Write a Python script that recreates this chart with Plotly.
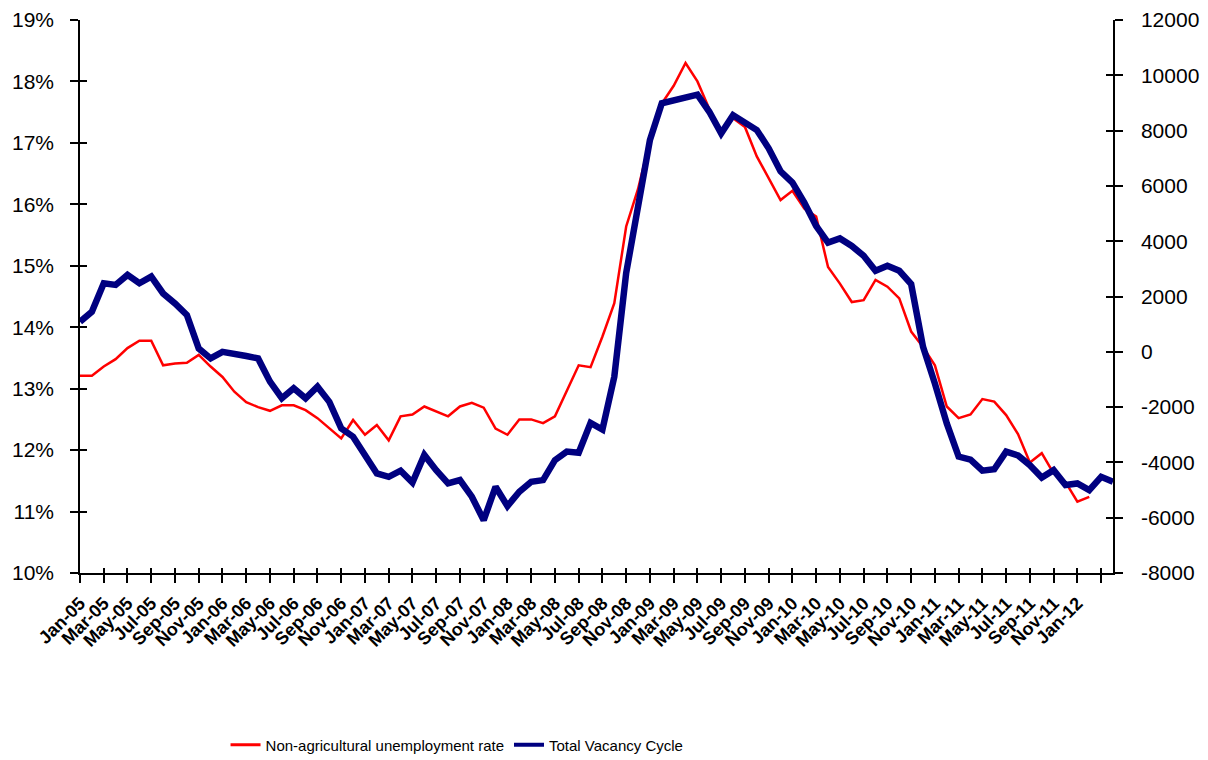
import pandas as pd
import plotly.graph_objects as go

# Monthly categories Jan-05 .. Apr-12
months = [d.strftime("%b-%y") for d in pd.date_range("2005-01-01", "2012-04-01", freq="MS")]

# Non-agricultural unemployment rate (%), Jan-05 .. Feb-12
unemployment_rate = [
    13.21, 13.21, 13.36, 13.48, 13.66, 13.78, 13.78, 13.38, 13.41, 13.42, 13.55, 13.36,
    13.19, 12.95, 12.78, 12.70, 12.64, 12.73, 12.73, 12.65, 12.52, 12.35, 12.19, 12.49,
    12.25, 12.41, 12.16, 12.55, 12.58, 12.71, 12.63, 12.55, 12.71, 12.77, 12.69, 12.35,
    12.25, 12.50, 12.50, 12.44, 12.55, 12.97, 13.38, 13.35, 13.85, 14.39, 15.64, 16.25,
    17.05, 17.64, 17.93, 18.30, 18.00, 17.55, 17.15, 17.40, 17.26, 16.78, 16.42, 16.07,
    16.22, 15.93, 15.80, 14.98, 14.71, 14.41, 14.44, 14.77, 14.66, 14.47, 13.93, 13.68,
    13.38, 12.71, 12.52, 12.58, 12.83, 12.79, 12.57, 12.26, 11.80, 11.95, 11.62, 11.48,
    11.16, 11.24,
]

# Total Vacancy Cycle, Jan-05 .. Apr-12
vacancy_cycle = [
    1090, 1450, 2480, 2420, 2780, 2480, 2720, 2110, 1750, 1330, 120, -240,
    0, -60, -150, -240, -1080, -1680, -1320, -1680, -1260, -1810, -2770, -3070,
    -3790, -4400, -4520, -4300, -4730, -3730, -4280, -4760, -4640, -5240, -6090, -4880,
    -5580, -5060, -4700, -4640, -3920, -3610, -3650, -2570, -2810, -900, 2850, 5250,
    7660, 8990, 9080, 9190, 9300, 8680, 7900, 8560, 8320, 8020, 7360, 6530,
    6120, 5400, 4550, 3950, 4100, 3830, 3470, 2930, 3110, 2930, 2450, 180,
    -1150, -2590, -3790, -3900, -4300, -4250, -3610, -3750, -4100, -4550, -4280, -4820,
    -4760, -5000, -4520, -4700,
]

left_ticks = [10, 11, 12, 13, 14, 15, 16, 17, 18, 19]
right_ticks = [-8000, -6000, -4000, -2000, 0, 2000, 4000, 6000, 8000, 10000, 12000]

x_tickvals = months[0:87:2]
x_ticktext = [m if i <= 84 else "" for i, m in zip(range(0, 87, 2), x_tickvals)]

FONT = "Liberation Sans, Arial, sans-serif"
RED = "#FF0000"
NAVY = "#000080"

fig = go.Figure()
fig.add_trace(go.Scatter(
    x=months[:len(unemployment_rate)], y=unemployment_rate,
    name="Non-agricultural unemployment rate", mode="lines",
    line=dict(color=RED, width=2.5), yaxis="y", showlegend=False,
))
fig.add_trace(go.Scatter(
    x=months[:len(vacancy_cycle)], y=vacancy_cycle,
    name="Total Vacancy Cycle", mode="lines",
    line=dict(color=NAVY, width=6.5), yaxis="y2", showlegend=False,
))
# legend entries (thinner sample lines, as in the original legend); they also
# activate the overlay axes that draw the inner half of the crossing tick marks
fig.add_trace(go.Scatter(x=[None], y=[None], mode="lines", name="Non-agricultural unemployment rate",
                         line=dict(color=RED, width=3), yaxis="y3"))
fig.add_trace(go.Scatter(x=[None], y=[None], mode="lines", name="Total Vacancy Cycle",
                         line=dict(color=NAVY, width=4), yaxis="y4"))
fig.add_trace(go.Scatter(x=[None], y=[None], mode="lines", showlegend=False,
                         xaxis="x2", yaxis="y"))

axis_common = dict(showgrid=False, zeroline=False, linecolor="black", linewidth=1.5,
                   tickcolor="black", tickwidth=1.5, automargin=False)
overlay_common = dict(showline=False, showgrid=False, zeroline=False, showticklabels=False,
                      tickcolor="black", tickwidth=1.5, automargin=False)

fig.update_layout(
    width=1208, height=760,
    margin=dict(l=80, r=95, t=20, b=187, autoexpand=False),
    paper_bgcolor="white", plot_bgcolor="white",
    font=dict(family=FONT, color="black"),
    hovermode=False,
    xaxis=dict(
        type="category", categoryorder="array", categoryarray=months,
        range=[0, 87], tickmode="array", tickvals=x_tickvals, ticktext=x_ticktext,
        ticks="outside", ticklen=8, tickangle=-45, showline=True, ticklabelstandoff=3,
        tickfont=dict(size=18, family=FONT, weight="bold", color="black"),
        **axis_common,
    ),
    xaxis2=dict(
        type="category", categoryorder="array", categoryarray=months,
        range=[0, 87], tickmode="array", tickvals=x_tickvals,
        overlaying="x", anchor="y", side="bottom",
        ticks="inside", ticklen=5, **overlay_common,
    ),
    yaxis=dict(
        range=[10, 19], tickmode="array", tickvals=left_ticks,
        ticktext=[f"{v}%" for v in left_ticks],
        ticks="outside", ticklen=8, showline=True, ticklabelstandoff=12,
        tickfont=dict(size=21, family=FONT, color="black"),
        **axis_common,
    ),
    yaxis2=dict(
        range=[-8000, 12000], tickmode="array", tickvals=right_ticks,
        ticktext=[str(v) for v in right_ticks],
        overlaying="y", side="right", anchor="x",
        ticks="outside", ticklen=8, showline=True, ticklabelstandoff=14,
        tickfont=dict(size=21, family=FONT, color="black"),
        **axis_common,
    ),
    yaxis3=dict(
        range=[10, 19], tickmode="array", tickvals=left_ticks,
        overlaying="y", side="left", anchor="x",
        ticks="inside", ticklen=7, **overlay_common,
    ),
    yaxis4=dict(
        range=[-8000, 12000], tickmode="array", tickvals=right_ticks,
        overlaying="y", side="right", anchor="x",
        ticks="inside", ticklen=7, **overlay_common,
    ),
    legend=dict(
        orientation="h", x=0.365, xanchor="center", y=-0.311, yanchor="middle",
        font=dict(size=15, family=FONT, color="black"),
        bgcolor="rgba(0,0,0,0)", itemwidth=30,
    ),
    showlegend=True,
)

fig.write_html(
    "out.html",
    config={"displayModeBar": False},
    post_script="document.body.style.margin='0';document.body.style.overflow='hidden';",
)
